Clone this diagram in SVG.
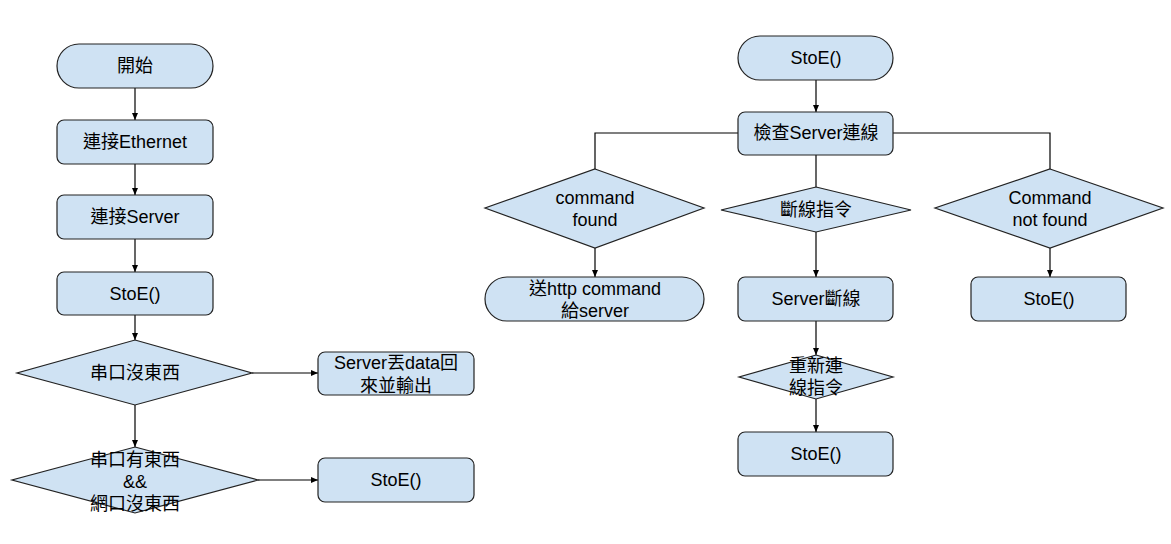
<svg xmlns="http://www.w3.org/2000/svg" width="1171" height="544" viewBox="0 0 1171 544">
<defs>
<marker id="arr" markerWidth="8" markerHeight="8" refX="7" refY="4" orient="auto" markerUnits="userSpaceOnUse">
<path d="M0,1 L7,4 L0,7 Z" fill="#000"/>
</marker>
<style>
.n{fill:#cfe2f3;stroke:#222;stroke-width:1.2}
.t{font-family:"Liberation Sans","Noto Sans CJK TC",sans-serif;font-size:18px;fill:#000;text-anchor:middle;dominant-baseline:central}
.c{fill:none;stroke:#000;stroke-width:1.2}
.a{marker-end:url(#arr)}
</style>
</defs>
<rect width="1171" height="544" fill="#fff"/>
<g id="connectors">
<path class="c a" d="M135,88 V120"/>
<path class="c a" d="M135,164 V195"/>
<path class="c a" d="M135,239 V272"/>
<path class="c a" d="M135,315 V340"/>
<path class="c a" d="M135,405 V447"/>
<path class="c a" d="M252,373 H318"/>
<path class="c a" d="M258,480 H318"/>
<path class="c a" d="M816,80 V112"/>
<path class="c" d="M738,133 H595 V169"/>
<path class="c" d="M893,133 H1050 V169"/>
<path class="c" d="M816,155 V187"/>
<path class="c a" d="M595,248 V277"/>
<path class="c a" d="M816,232 V277"/>
<path class="c a" d="M1050,248 V277"/>
<path class="c a" d="M816,321 V355"/>
<path class="c a" d="M816,399 V432"/>
</g>
<g id="start">
<rect class="n" x="57" y="44" width="156" height="44" rx="22"/>
<text class="t" x="135" y="66">開始</text>
</g>
<g id="eth">
<rect class="n" x="57" y="120" width="156" height="44" rx="7"/>
<text class="t" x="135" y="142">連接Ethernet</text>
</g>
<g id="srv">
<rect class="n" x="57" y="195" width="156" height="44" rx="7"/>
<text class="t" x="135" y="217">連接Server</text>
</g>
<g id="stoe1">
<rect class="n" x="57" y="272" width="156" height="43" rx="7"/>
<text class="t" x="135" y="294">StoE()</text>
</g>
<g id="d1">
<polygon class="n" points="135,340 252,373 135,405 17,373"/>
<text class="t" x="135" y="373">串口沒東西</text>
</g>
<g id="out">
<rect class="n" x="318" y="352" width="156" height="43" rx="7"/>
<text class="t" x="396" y="363">Server丟data回</text>
<text class="t" x="396" y="386">來並輸出</text>
</g>
<g id="d2">
<polygon class="n" points="135,447 258,480 135,513 12,480"/>
<text class="t" x="135" y="460">串口有東西</text>
<text class="t" x="135" y="482">&amp;&amp;</text>
<text class="t" x="135" y="504">網口沒東西</text>
</g>
<g id="stoe2">
<rect class="n" x="318" y="458" width="156" height="44" rx="7"/>
<text class="t" x="396" y="480">StoE()</text>
</g>
<g id="rstart">
<rect class="n" x="738" y="36" width="155" height="44" rx="22"/>
<text class="t" x="816" y="58">StoE()</text>
</g>
<g id="check">
<rect class="n" x="738" y="112" width="155" height="43" rx="7"/>
<text class="t" x="816" y="133">檢查Server連線</text>
</g>
<g id="cf">
<polygon class="n" points="595,169 704,208 595,248 485,208"/>
<text class="t" x="595" y="198">command</text>
<text class="t" x="595" y="220">found</text>
</g>
<g id="disc">
<polygon class="n" points="816,187 911,210 816,232 721,210"/>
<text class="t" x="816" y="210">斷線指令</text>
</g>
<g id="cnf">
<polygon class="n" points="1050,169 1163,208 1050,248 935,208"/>
<text class="t" x="1050" y="198">Command</text>
<text class="t" x="1050" y="220">not found</text>
</g>
<g id="send">
<rect class="n" x="485" y="277" width="219" height="44" rx="22"/>
<text class="t" x="595" y="289">送http command</text>
<text class="t" x="595" y="311">給server</text>
</g>
<g id="sdisc">
<rect class="n" x="738" y="277" width="155" height="44" rx="7"/>
<text class="t" x="816" y="299">Server斷線</text>
</g>
<g id="stoe3">
<rect class="n" x="971" y="277" width="155" height="44" rx="7"/>
<text class="t" x="1049" y="299">StoE()</text>
</g>
<g id="recon">
<polygon class="n" points="816,355 893,377 816,399 739,377"/>
<text class="t" x="816" y="366">重新連</text>
<text class="t" x="816" y="388">線指令</text>
</g>
<g id="stoe4">
<rect class="n" x="738" y="432" width="155" height="44" rx="7"/>
<text class="t" x="816" y="454">StoE()</text>
</g>
</svg>
